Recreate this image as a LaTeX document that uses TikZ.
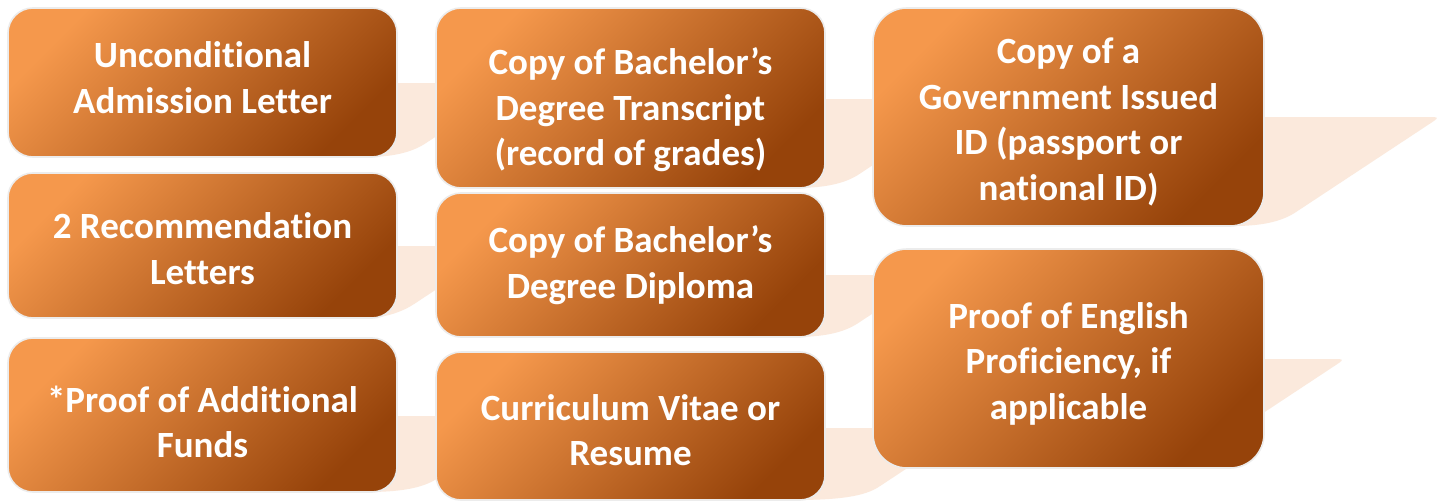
\documentclass[tikz,border=0pt]{standalone}
\usepackage{fontspec}
\setmainfont{Carlito}[Ligatures=NoCommon]
\definecolor{boxlight}{RGB}{245,152,76}
\definecolor{boxdark}{RGB}{150,67,10}
\definecolor{tailc}{RGB}{251,233,220}
\definecolor{edgec}{RGB}{236,236,236}
\tikzset{
  itembox/.style={draw=edgec, line width=1.6pt, rounded corners=#1,
    top color=boxlight, bottom color=boxdark, shading angle=45,
    inner sep=0pt},
  itembox/.default=25pt,
  itemtext/.style={inner sep=0pt, align=center, text=white,
    font=\fontsize{37}{45.5}\selectfont\bfseries},
  tailshape/.style={fill=tailc, draw=none}
}
% #1 box right x, #2 box bottom y, #3 tail top y, #4 tail far x
\newcommand\drawtail[4]{%
  \pgfmathsetmacro\xd{#4-(#2-14-#3)/0.66}%
  \fill[tailshape] (#1-40,#3) -- (#4-14,#3) .. controls (#4,#3) .. (#4-11.7,#3+7.7)
    -- (\xd,#2-14) .. controls (\xd-12,#2-6) and (\xd-30,#2) .. (#1-30,#2)
    -- (#1-40,#2) -- cycle;}
\begin{document}
\begin{tikzpicture}[x=1pt,y=-1pt]
\useasboundingbox (0,0) rectangle (1445,503);
\fill[white] (0,0) rectangle (1445,503);
% tails
\drawtail{397}{157}{83}{517}
\drawtail{397}{318}{246}{502}
\drawtail{397}{492}{416}{532}
\drawtail{825}{188}{99}{973}
\drawtail{825}{337}{275}{931}
\drawtail{825}{500}{428}{968}
\drawtail{1264}{226}{117}{1440}
\drawtail{1264}{468}{359}{1345}
% column 1
\node[itembox, minimum width=389pt, minimum height=149pt] (a1) at (202.5,82.5) {};
\node[itemtext] (a1t) at ([yshift=5pt]a1.center) {Unconditional\\Admission Letter};
\node[itembox, minimum width=389pt, minimum height=145pt] (a2) at (202.5,245.5) {};
\node[itemtext] (a2t) at ([yshift=-3pt]a2.center) {2 Recommendation\\Letters};
\node[itembox, minimum width=389pt, minimum height=154pt] (a3) at (202.5,415) {};
\node[itemtext] (a3t) at ([yshift=-7pt]a3.center) {*Proof of Additional\\Funds};
% column 2
\node[itembox, minimum width=389pt, minimum height=180pt] (b1) at (630.5,98) {};
\node[itemtext] (b1t) at ([yshift=-12pt]b1.center) {Copy of Bachelor’s\\Degree Transcript\\(record of grades)};
\node[itembox, minimum width=389pt, minimum height=144pt] (b2) at (630.5,265) {};
\node[itemtext] (b2t) at (b2.center) {Copy of Bachelor’s\\Degree Diploma};
\node[itembox, minimum width=389pt, minimum height=148pt] (b3) at (630.5,426) {};
\node[itemtext] (b3t) at ([yshift=-4pt]b3.center) {Curriculum Vitae or\\Resume};
% column 3
\node[itembox=34pt, minimum width=391pt, minimum height=218pt] (c1) at (1068.5,117) {};
\node[itemtext] (c1t) at ([yshift=-5pt]c1.center) {Copy of a\\Government Issued\\ID (passport or\\national ID)};
\node[itembox=34pt, minimum width=391pt, minimum height=219pt] (c2) at (1068.5,358.5) {};
\node[itemtext] (c2t) at ([yshift=-5pt]c2.center) {Proof of English\\Proficiency, if\\applicable};
\end{tikzpicture}
\end{document}
